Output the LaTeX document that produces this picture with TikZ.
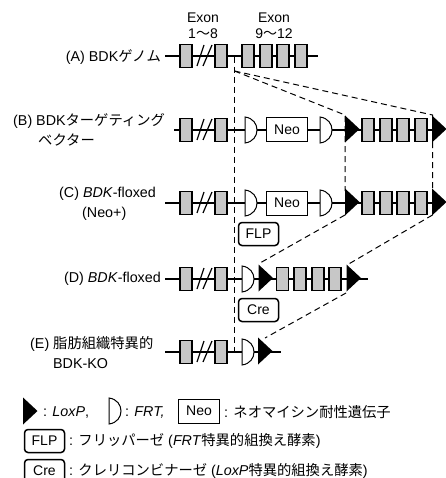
\documentclass[tikz,border=0pt]{standalone}
\usepackage{fontspec}
\setmainfont{Liberation Sans}
\newfontfamily\cjk{Noto Sans CJK JP}
\usetikzlibrary{positioning}
\tikzset{
  lbl/.style={font=\fontsize{14.3}{20}\selectfont, align=left, inner sep=0pt},
  exlbl/.style={font=\fontsize{14}{16}\selectfont, align=center, inner sep=0pt},
  wire/.style={line width=1.5pt},
  exon/.style={draw, line width=1.4pt, fill=black!22, minimum width=12pt, minimum height=23pt, inner sep=0pt},
  neo/.style={draw, line width=1pt, fill=white, minimum width=41pt, minimum height=24pt, inner sep=0pt, font=\fontsize{14}{16}\selectfont},
  enz/.style={draw, line width=1.5pt, rounded corners=3.5pt, fill=white, minimum width=40pt, minimum height=23pt, inner sep=0pt, font=\fontsize{14}{16}\selectfont},
  guide/.style={line width=1pt, dash pattern=on 6pt off 4pt},
  frt/.pic={\filldraw[line width=1pt, fill=white] (0,-13) -- (0,13) .. controls (16,11) and (16,-11) .. (0,-13) -- cycle;},
  lox/.pic={\fill (0,-13.5) -- (14.5,0) -- (0,13.5) -- cycle;},
  brk/.pic={\draw[line width=1.2pt] (-7,10) -- (0,-11) (-1,10) -- (8,-11);},
}
\begin{document}
\begin{tikzpicture}[x=1pt,y=-1pt]
\useasboundingbox (0,0) rectangle (445,478);
\node[exlbl] (exa) at (203,26) {Exon\\1{\cjk ～}8};
\node[exlbl] (exb) at (274,26) {Exon\\9{\cjk ～}12};

% labels
\node[lbl, anchor=east] (la) at (161,57) {(A) BDK{\cjk ゲノム}};
\node[lbl, anchor=west] (lb) at (13,130) {(B) BDK{\cjk ターゲティング}\\\hspace{25pt}{\cjk ベクター}};
\node[lbl, anchor=west] (lc) at (59,204) {(C) \textit{BDK}-floxed\\\hspace{23pt}(Neo+)};
\node[lbl, anchor=east] (ld) at (161,279) {(D) \textit{BDK}-floxed};
\node[lbl, anchor=west] (le) at (30,353) {(E) {\cjk 脂肪組織特異的}\\\hspace{23pt}BDK-KO};

% row A
\coordinate (wa1) at (165,56);
\coordinate (wa2) at (318,56);
\draw[wire] (wa1) -- (wa2);
\foreach \x/\n in {186/a1,221/a2,248/a3,266/a4,283/a5,301/a6}
  \node[exon] (\n) at (\x,56) {};
\pic at (204,56) {brk};
% row B
\coordinate (wb1) at (174,130);
\coordinate (wb2) at (440,130);
\draw[wire] (wb1) -- (wb2);
\foreach \x/\n in {186/b1,221/b2,368/b3,386/b4,403/b5,421/b6}
  \node[exon] (\n) at (\x,130) {};
\pic at (204,130) {brk};
\pic at (245,130) {frt};
\pic at (320,130) {frt};
\node[neo] (nb) at (287,130) {Neo};
% row C
\coordinate (wc1) at (165,203);
\coordinate (wc2) at (440,203);
\draw[wire] (wc1) -- (wc2);
\foreach \x/\n in {186/c1,221/c2,368/c3,386/c4,403/c5,421/c6}
  \node[exon] (\n) at (\x,203) {};
\pic at (204,203) {brk};
\pic at (245,203) {frt};
\pic at (320,203) {frt};
\node[neo] (nc) at (287,203) {Neo};
\node[enz] (flp) at (258.5,234) {FLP};
% row D
\coordinate (wd1) at (165,279);
\coordinate (wd2) at (368,279);
\draw[wire] (wd1) -- (wd2);
\foreach \x/\n in {186/d1,221/d2,282.5/d3,300/d4,318/d5,335/d6}
  \node[exon] (\n) at (\x,279) {};
\pic at (204,279) {brk};
\pic at (242,279) {frt};
\node[enz] (cre) at (258.5,310) {Cre};
% row E
\coordinate (we1) at (165,352);
\coordinate (we2) at (281,352);
\draw[wire] (we1) -- (we2);
\foreach \x/\n in {186/e1,221/e2}
  \node[exon] (\n) at (\x,352) {};
\pic at (204,352) {brk};
\pic at (242,352) {frt};

% dashed guides
\coordinate (ga0) at (234.5,57);
\coordinate (ga) at (234.5,71);
\coordinate (ge) at (234.5,352);
\coordinate (gb1) at (345,115);
\coordinate (gb2) at (432.5,115);
\coordinate (gc1) at (345,191);
\coordinate (gc2) at (432.5,191);
\coordinate (gd1) at (345,215);
\coordinate (gd2) at (432.5,215);
\coordinate (gf1) at (260,263);
\coordinate (gf2) at (347,265);
\coordinate (gg1) at (346,293);
\coordinate (gg2) at (265,338);
\draw[guide] (ga0) -- (ge);
\draw[guide] (ga) -- (gb1) -- (gc1);
\draw[guide] (ga) -- (gb2) -- (gc2);
\draw[guide] (gd1) -- (gf1);
\draw[guide] (gd2) -- (gf2);
\draw[guide] (gg1) -- (gg2);

% loxp on top of guides
\pic at (345,129) {lox};
\pic at (432,129) {lox};
\pic at (345,202) {lox};
\pic at (432,202) {lox};
\pic at (258.5,278) {lox};
\pic at (346.5,278) {lox};
\pic at (258,351) {lox};

% legend
\pic at (23,411) {lox};
\node[lbl, anchor=west] (k1) at (43,412) {: \textit{LoxP},};
\pic at (109,411) {frt};
\node[lbl, anchor=west] (k2) at (125,412) {: \textit{FRT,}};
\node[neo] (k3) at (199,411) {Neo};
\node[lbl, anchor=west] (k4) at (224,412) {: {\cjk ネオマイシン耐性遺伝子}};
\node[enz] (k5) at (44.5,441) {FLP};
\node[lbl, anchor=west] (k6) at (69,441) {: {\cjk フリッパーゼ} (\textit{FRT}{\cjk 特異的組換え酵素})};
\node[enz] (k7) at (44.5,471) {Cre};
\node[lbl, anchor=west] (k8) at (69,471) {: {\cjk クレリコンビナーゼ} (\textit{LoxP}{\cjk 特異的組換え酵素})};
\end{tikzpicture}
\end{document}
